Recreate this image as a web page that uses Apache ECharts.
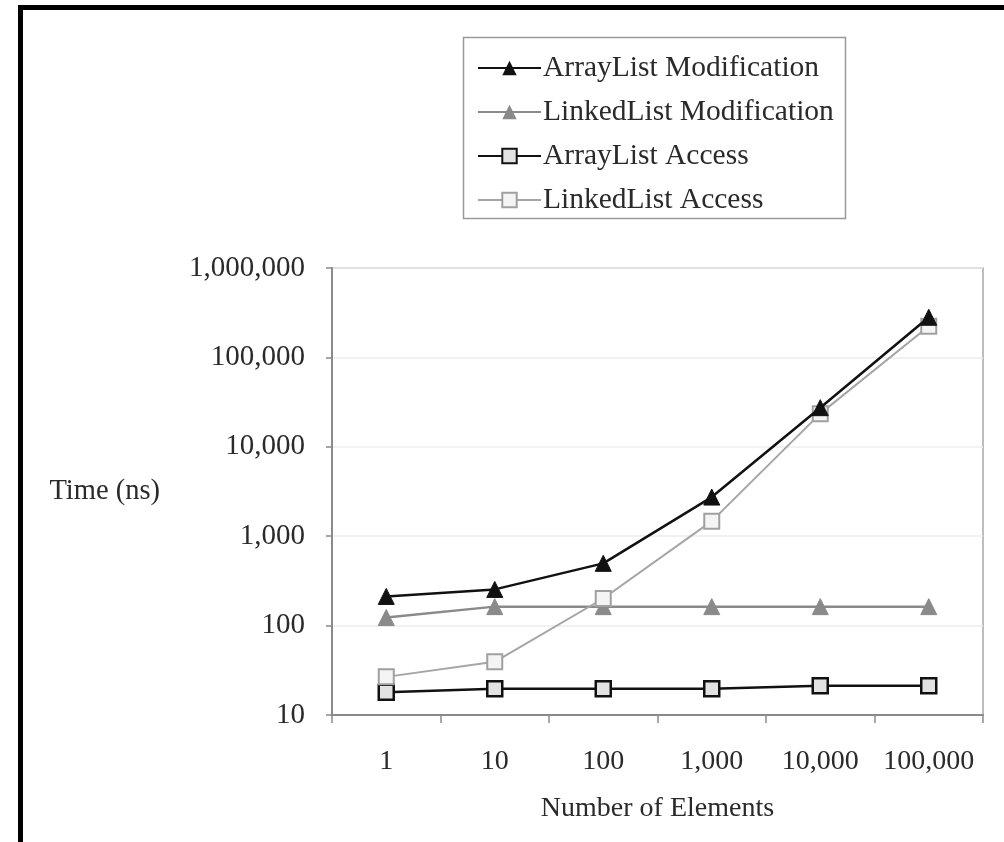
<!DOCTYPE html>
<html>
<head>
<meta charset="utf-8">
<script src="https://cdn.jsdelivr.net/npm/echarts@6/dist/echarts.min.js"></script>
<style>
html,body{margin:0;padding:0;background:#fff;}
#c{width:1004px;height:842px;}
</style>
</head>
<body>
<div id="c"></div>
<script>
var categories = ['1', '10', '100', '1,000', '10,000', '100,000'];
var arrayListModification = [212, 254, 497, 2740, 27400, 281000];
var linkedListModification = [123, 163, 163, 163, 163, 163];
var arrayListAccess = [18, 19.6, 19.6, 19.6, 21.2, 21.2];
var linkedListAccess = [26.7, 39.4, 201, 1473, 23500, 223000];
var yTicks = [10, 100, 1000, 10000, 100000, 1000000];

var FONT = '"Liberation Serif", "DejaVu Serif", serif';
var TXT = '#2a2a2a';

function fmt(v) {
  return String(Math.round(v)).replace(/\B(?=(\d{3})+(?!\d))/g, ',');
}

var chart = echarts.init(document.getElementById('c'), null, {renderer: 'canvas'});
var option = {
  backgroundColor: '#fff',
  animation: false,
  graphic: [
    {type: 'rect', z: 0, shape: {x: 20.5, y: 7.5, width: 1100, height: 1000},
     style: {fill: 'none', stroke: '#000', lineWidth: 5}},
    {type: 'rect', z: 0, shape: {x: 463.5, y: 37.5, width: 382, height: 181},
     style: {fill: 'none', stroke: '#9a9a9a', lineWidth: 1.5}}
  ],
  legend: {
    orient: 'vertical',
    left: 477, top: 53,
    padding: 0,
    itemWidth: 63, itemHeight: 18, itemGap: 14,
    textStyle: {fontFamily: FONT, fontSize: 29.5, color: TXT, lineHeight: 30, padding: [0, 0, 0, -3]},
    data: ['ArrayList Modification', 'LinkedList Modification', 'ArrayList Access', 'LinkedList Access']
  },
  grid: {left: 332, top: 268, right: 21, bottom: 127, show: true, borderColor: '#a8a8a8', borderWidth: 1.5},
  xAxis: {
    type: 'category',
    data: categories,
    boundaryGap: true,
    name: 'Number of Elements',
    nameLocation: 'middle',
    nameGap: 80,
    nameTextStyle: {fontFamily: FONT, fontSize: 28, color: TXT},
    axisLine: {lineStyle: {color: '#8a8a8a', width: 2}},
    axisTick: {show: true, interval: 0, length: 8, lineStyle: {color: '#8a8a8a', width: 1.5}},
    axisLabel: {fontFamily: FONT, fontSize: 28, color: TXT, margin: 33, interval: 0}
  },
  yAxis: {
    type: 'log',
    logBase: 10,
    min: 10, max: 1000000,
    name: 'Time (ns)',
    nameLocation: 'middle',
    nameRotate: 0,
    nameGap: 172,
    nameTextStyle: {fontFamily: FONT, fontSize: 28.5, color: TXT},
    axisLine: {show: true, lineStyle: {color: '#8a8a8a', width: 2}},
    axisTick: {show: true, length: 6, lineStyle: {color: '#8a8a8a', width: 1.5}},
    splitLine: {show: true, lineStyle: {color: '#ececec', width: 1.5}},
    axisLabel: {fontFamily: FONT, fontSize: 29, color: TXT, margin: 27,
      formatter: function (v) { return fmt(v); }}
  },
  series: [
    {name: 'ArrayList Modification', type: 'line', data: arrayListModification,
     symbol: 'triangle', symbolSize: 16, z: 5,
     lineStyle: {color: '#111', width: 2.5}, itemStyle: {color: '#111', borderColor: '#111'}},
    {name: 'LinkedList Modification', type: 'line', data: linkedListModification,
     symbol: 'triangle', symbolSize: 16, z: 3,
     lineStyle: {color: '#8a8a8a', width: 2.5}, itemStyle: {color: '#8a8a8a', borderColor: '#8a8a8a'}},
    {name: 'ArrayList Access', type: 'line', data: arrayListAccess,
     symbol: 'rect', symbolSize: 15, z: 4,
     lineStyle: {color: '#111', width: 2.5}, itemStyle: {color: '#e2e2e2', borderColor: '#111', borderWidth: 2.5}},
    {name: 'LinkedList Access', type: 'line', data: linkedListAccess,
     symbol: 'rect', symbolSize: 15, z: 4,
     lineStyle: {color: '#a5a5a5', width: 2}, itemStyle: {color: '#f4f4f4', borderColor: '#a0a0a0', borderWidth: 2}}
  ]
};
chart.setOption(option);
</script>
</body>
</html>
